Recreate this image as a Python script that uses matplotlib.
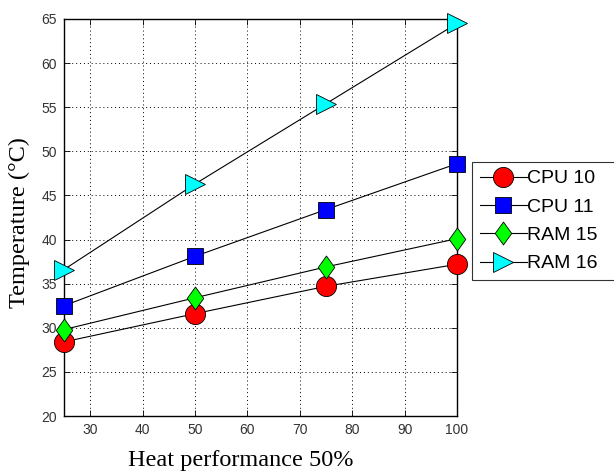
import matplotlib
matplotlib.use("Agg")
import matplotlib.pyplot as plt
from matplotlib.path import Path

x_vals = [25, 50, 75, 100]
cpu10 = [28.4, 31.6, 34.7, 37.2]
cpu11 = [32.5, 38.1, 43.4, 48.6]
ram15 = [29.8, 33.4, 36.9, 40.1]
ram16 = [36.6, 46.3, 55.4, 64.5]
labels = ["CPU 10", "CPU 11", "RAM 15", "RAM 16"]
x_ticks = [30, 40, 50, 60, 70, 80, 90, 100]
y_ticks = [20, 25, 30, 35, 40, 45, 50, 55, 60, 65]

W, H = 614, 472
fig = plt.figure(figsize=(W / 100, H / 100), dpi=100)
ax = fig.add_axes([64 / W, 1 - 416 / H, (457 - 64) / W, (416 - 19) / H])

diamond = Path([(0, 1), (0.72, 0), (0, -1), (-0.72, 0), (0, 1)],
               [Path.MOVETO, Path.LINETO, Path.LINETO, Path.LINETO, Path.CLOSEPOLY])

series = [
    (cpu10, "o", "#ff0000", 14.5),
    (cpu11, "s", "#0000ff", 12),
    (ram15, diamond, "#00ff00", 16.5),
    (ram16, ">", "#00ffff", 14),
]
for (ys, m, c, ms), lab in zip(series, labels):
    ax.plot(x_vals, ys, color="black", lw=0.8, marker=m, markersize=ms,
            markerfacecolor=c, markeredgecolor="black", markeredgewidth=0.6,
            label=lab, clip_on=False, zorder=3)

ax.set_xlim(25, 100)
ax.set_ylim(20, 65)
ax.set_xticks(x_ticks)
ax.set_yticks(y_ticks)
ax.grid(True, color="black", linestyle=(0, (1, 3)), linewidth=0.7)
ax.tick_params(direction="in", length=4, width=0.6, top=True, right=True,
               labelsize=10, pad=5, colors="black")
for lab in ax.get_xticklabels() + ax.get_yticklabels():
    lab.set_family("Liberation Sans")
    lab.set_color("#333333")
for s in ax.spines.values():
    s.set_linewidth(1.0)
    s.set_color("black")

ax.set_xlabel("Heat performance 50%", family="Liberation Serif", fontsize=17.5)
ax.xaxis.set_label_coords((241 - 64) / 393, (416 - 466) / 397, transform=ax.transAxes)
ax.xaxis.label.set_va("baseline")
ax.set_ylabel("Temperature (\u00b0C)", family="Liberation Serif", fontsize=17.5)
ax.yaxis.set_label_coords((19 - 64) / 393, (416 - 223) / 397, transform=ax.transAxes)
ax.yaxis.label.set_va("center")

leg = fig.legend(loc="upper left",
                 bbox_to_anchor=(472 / W, 1 - 276 / H, 160 / W, 114 / H),
                 bbox_transform=fig.transFigure, borderaxespad=0, mode="expand",
                 prop={"family": "Liberation Sans", "size": 14},
                 frameon=True, fancybox=False, edgecolor="black",
                 handlelength=2.42, handletextpad=0.0, labelspacing=0.55,
                 borderpad=0.4)
leg.get_frame().set_linewidth(0.8)

fig.savefig("out.png", dpi=100)
